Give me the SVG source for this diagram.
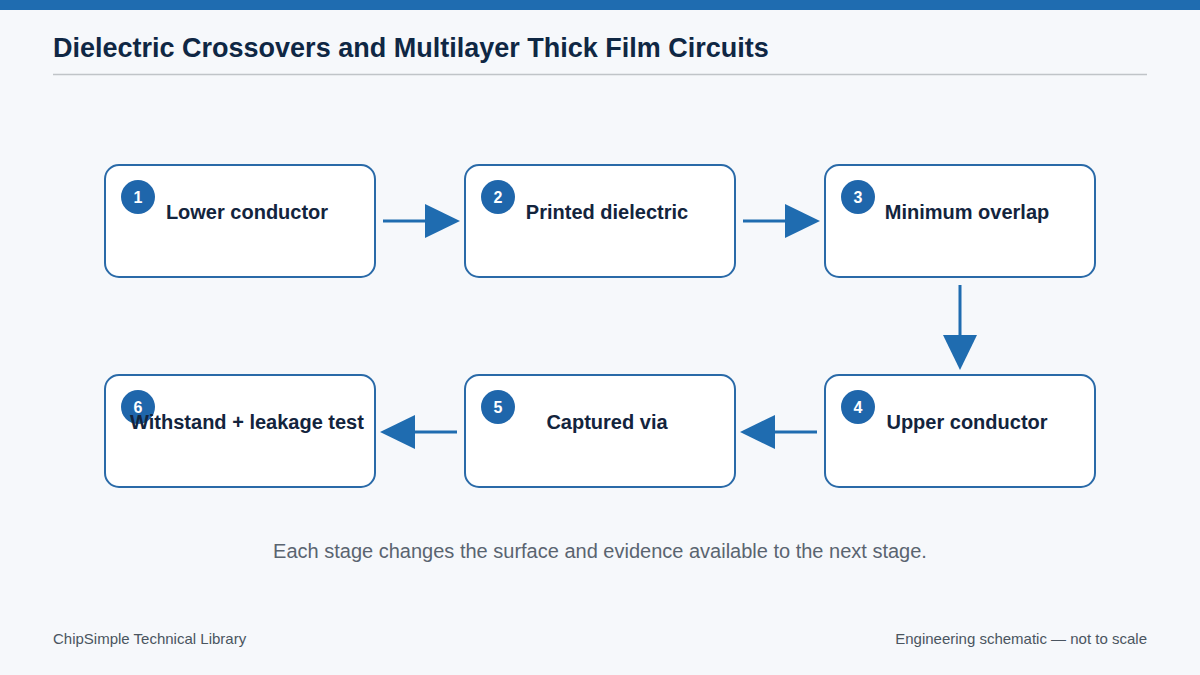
<svg xmlns="http://www.w3.org/2000/svg" width="1200" height="675" viewBox="0 0 1200 675">
<style>
text{font-family:"Liberation Sans",Arial,sans-serif}
.box{fill:#fff;stroke:#2a6aa8;stroke-width:2}
.num{fill:#1f66ab}
.nt{fill:#fff;font-size:16px;font-weight:bold;text-anchor:middle}
.lb{fill:#13243d;font-size:20px;font-weight:bold;text-anchor:middle}
.ln{stroke:#1f6cb0;stroke-width:3;fill:none}
.hd{fill:#1f6cb0}
.ft{fill:#4a5560;font-size:15px}
</style>
<rect width="1200" height="675" fill="#f6f8fb"/>
<rect width="1200" height="10" fill="#1f6cb0"/>
<text x="53" y="57" font-size="27" font-weight="bold" fill="#0f2744">Dielectric Crossovers and Multilayer Thick Film Circuits</text>
<line x1="53" y1="74.5" x2="1147" y2="74.5" stroke="#c0c4c8" stroke-width="1.5"/>
<g id="node1"><rect class="box" x="105" y="165" width="270" height="112" rx="14"/><circle class="num" cx="138" cy="197" r="17"/><text class="nt" x="138" y="203">1</text><text class="lb" x="247" y="219">Lower conductor</text></g>
<g id="node2"><rect class="box" x="465" y="165" width="270" height="112" rx="14"/><circle class="num" cx="498" cy="197" r="17"/><text class="nt" x="498" y="203">2</text><text class="lb" x="607" y="219">Printed dielectric</text></g>
<g id="node3"><rect class="box" x="825" y="165" width="270" height="112" rx="14"/><circle class="num" cx="858" cy="197" r="17"/><text class="nt" x="858" y="203">3</text><text class="lb" x="967" y="219">Minimum overlap</text></g>
<g id="node4"><rect class="box" x="825" y="375" width="270" height="112" rx="14"/><circle class="num" cx="858" cy="407" r="17"/><text class="nt" x="858" y="413">4</text><text class="lb" x="967" y="429">Upper conductor</text></g>
<g id="node5"><rect class="box" x="465" y="375" width="270" height="112" rx="14"/><circle class="num" cx="498" cy="407" r="17"/><text class="nt" x="498" y="413">5</text><text class="lb" x="607" y="429">Captured via</text></g>
<g id="node6"><rect class="box" x="105" y="375" width="270" height="112" rx="14"/><circle class="num" cx="138" cy="407" r="17"/><text class="nt" x="138" y="413">6</text><text class="lb" x="247" y="429">Withstand + leakage test</text></g>
<g id="connectors">
<line class="ln" x1="383" y1="221" x2="428" y2="221"/><polygon class="hd" points="425,204 460,221 425,238"/>
<line class="ln" x1="743" y1="221" x2="788" y2="221"/><polygon class="hd" points="785,204 820,221 785,238"/>
<line class="ln" x1="960" y1="285" x2="960" y2="338"/><polygon class="hd" points="943,335 960,370 977,335"/>
<line class="ln" x1="817" y1="432" x2="772" y2="432"/><polygon class="hd" points="775,415 740,432 775,449"/>
<line class="ln" x1="457" y1="432" x2="412" y2="432"/><polygon class="hd" points="415,415 380,432 415,449"/>
</g>
<text x="600" y="558" font-size="20" fill="#5a6470" text-anchor="middle">Each stage changes the surface and evidence available to the next stage.</text>
<text class="ft" x="53" y="644">ChipSimple Technical Library</text>
<text class="ft" x="1147" y="644" text-anchor="end">Engineering schematic — not to scale</text>
</svg>
